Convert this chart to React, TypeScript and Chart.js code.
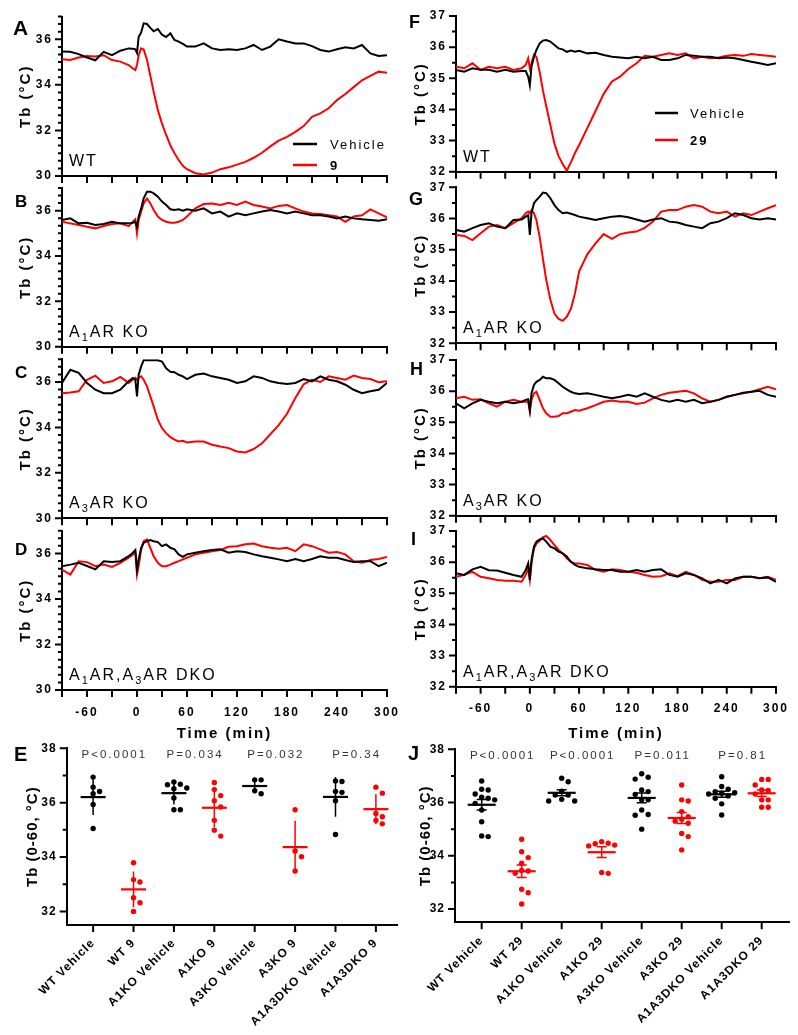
import React, { useEffect, useRef } from 'react';
import { Chart, registerables } from 'chart.js';

Chart.register(...registerables);

const FONT = '"Liberation Sans", Arial, Helvetica, sans-serif';
const BLACK = '#000000';
const RED = '#ff0000';

// ---------- time axis (minutes) ----------
const TIME = [
  -90, -80, -70, -60, -50, -40, -30, -20, -10, -5,
  -2, 0, 2, 5, 8, 12, 16, 20, 25, 30,
  35, 40, 45, 50, 55, 60, 70, 80, 90, 100,
  110, 120, 130, 140, 150, 160, 170, 180, 190, 200,
  210, 220, 230, 240, 250, 260, 270, 280, 290, 300,
];
const TIME_TICKS = [-90, -60, -30, 0, 30, 60, 90, 120, 150, 180, 210, 240, 270, 300];
const TIME_LABELS = [-60, 0, 60, 120, 180, 240, 300];
const Y_LEFT_LABELS = [30, 32, 34, 36];
const Y_RIGHT_LABELS = [32, 33, 34, 35, 36, 37];
const Y_SCATTER_LABELS = [32, 34, 36, 38];

// ---------- compound 9 (left column) ----------
const A_VEH = [
  35.46, 35.45, 35.35, 35.2, 35.08, 35.45, 35.3, 35.5, 35.6, 35.58,
  35.56, 35.4, 36.1, 36.3, 36.7, 36.67, 36.5, 36.35, 36.45, 36.2,
  36.1, 36.26, 35.97, 35.9, 35.8, 35.68, 35.68, 35.82, 35.6, 35.53,
  35.56, 35.53, 35.6, 35.75, 35.53, 35.68, 36.0, 35.9, 35.82, 35.82,
  35.7, 35.53, 35.46, 35.56, 35.65, 35.6, 35.75, 35.38, 35.27, 35.3,
];
const A_DRUG = [
  35.12, 35.09, 35.2, 35.27, 35.24, 35.3, 35.09, 35.02, 34.87, 34.72,
  34.65, 34.87, 35.3, 35.6, 35.55, 35.1, 34.4, 33.7, 32.9, 32.3,
  31.8, 31.35, 31.0, 30.7, 30.45, 30.3, 30.12, 30.07, 30.15, 30.3,
  30.38, 30.5, 30.62, 30.8, 31.02, 31.3, 31.55, 31.72, 31.94, 32.19,
  32.6, 32.75, 32.97, 33.33, 33.6, 33.9, 34.2, 34.39, 34.58, 34.53,
];
const B_VEH = [
  35.59, 35.66, 35.44, 35.47, 35.37, 35.41, 35.51, 35.44, 35.44, 35.47,
  35.51, 35.29, 35.74, 36.1, 36.54, 36.84, 36.84, 36.76, 36.62, 36.4,
  36.25, 36.06, 36.03, 36.06, 36.0, 36.06, 36.0, 36.1, 35.88, 35.96,
  35.74, 35.88, 35.8, 35.88, 35.96, 36.03, 35.96, 35.88, 35.96, 35.88,
  35.8, 35.8, 35.74, 35.66, 35.74, 35.66, 35.62, 35.59, 35.56, 35.62,
];
const B_DRUG = [
  35.51, 35.44, 35.37, 35.29, 35.22, 35.32, 35.41, 35.44, 35.32, 35.51,
  35.62, 35.0, 35.59, 35.96, 36.32, 36.54, 36.32, 36.03, 35.74, 35.59,
  35.51, 35.47, 35.47, 35.51, 35.59, 35.74, 36.1, 36.29, 36.32, 36.25,
  36.35, 36.25, 36.4, 36.25, 36.18, 36.1, 36.21, 36.25, 36.1, 35.96,
  35.88, 35.85, 35.8, 35.74, 35.51, 35.74, 35.8, 36.06, 35.88, 35.71,
];
const C_VEH = [
  35.96, 36.54, 36.4, 35.96, 35.66, 35.51, 35.51, 35.66, 36.03, 36.18,
  36.1, 35.37, 36.32, 36.69, 36.96, 36.96, 36.96, 36.96, 36.96, 36.9,
  36.6, 36.45, 36.43, 36.32, 36.25, 36.13, 36.32, 36.37, 36.25, 36.18,
  36.1, 35.96, 36.03, 36.25, 36.18, 36.03, 35.96, 35.91, 35.96, 36.13,
  36.03, 36.25, 36.1, 36.03, 35.88, 35.66, 35.51, 35.59, 35.66, 35.96,
];
const C_DRUG = [
  35.51, 35.54, 35.59, 36.1, 36.28, 35.96, 36.03, 36.22, 35.96, 36.1,
  36.18, 36.1, 36.18, 36.25, 36.1, 35.81, 35.37, 34.93, 34.34, 33.97,
  33.75, 33.57, 33.46, 33.38, 33.41, 33.34, 33.38, 33.38, 33.24, 33.16,
  33.09, 32.94, 32.9, 33.05, 33.3, 33.7, 34.1, 34.6, 35.3, 35.9,
  36.1, 36.0, 36.25, 36.18, 36.1, 36.28, 36.18, 36.13, 35.99, 36.03,
];
const D_VEH = [
  35.44, 35.51, 35.59, 35.45, 35.3, 35.66, 35.62, 35.66, 35.88, 36.03,
  36.15, 35.29, 35.74, 36.25, 36.47, 36.54, 36.59, 36.54, 36.5, 36.32,
  36.4, 36.25, 36.18, 35.96, 35.85, 35.96, 36.03, 36.1, 36.15, 36.18,
  36.03, 36.1, 36.06, 35.96, 35.88, 35.81, 35.74, 35.66, 35.76, 35.66,
  35.76, 35.88, 35.81, 35.81, 35.71, 35.62, 35.66, 35.66, 35.44, 35.59,
];
const D_DRUG = [
  35.29, 35.07, 35.66, 35.62, 35.44, 35.51, 35.41, 35.59, 35.81, 35.96,
  36.03, 35.07, 35.44, 36.18, 36.54, 36.62, 36.25, 35.88, 35.59, 35.44,
  35.44, 35.51, 35.59, 35.66, 35.74, 35.81, 35.96, 36.03, 36.1, 36.15,
  36.29, 36.32, 36.4, 36.44, 36.32, 36.25, 36.21, 36.25, 36.1, 36.4,
  36.32, 36.18, 36.03, 36.06, 35.96, 35.66, 35.59, 35.71, 35.76, 35.85,
];

// ---------- compound 29 (right column) ----------
const F_VEH = [
  35.27, 35.21, 35.32, 35.27, 35.27, 35.21, 35.27, 35.21, 35.23, 35.23,
  35.05, 34.78, 35.37, 35.69, 35.91, 36.12, 36.21, 36.23, 36.18, 36.07,
  35.96, 35.93, 35.85, 35.89, 35.85, 35.88, 35.8, 35.82, 35.75, 35.69,
  35.67, 35.64, 35.69, 35.64, 35.69, 35.59, 35.59, 35.64, 35.75, 35.72,
  35.69, 35.69, 35.64, 35.67, 35.64, 35.59, 35.53, 35.48, 35.43, 35.48,
];
const F_DRUG = [
  35.37, 35.32, 35.48, 35.27, 35.37, 35.32, 35.37, 35.27, 35.32, 35.43,
  35.64, 35.32, 35.48, 35.75, 35.69, 35.2, 34.6, 34.1, 33.5, 32.9,
  32.5, 32.25, 32.03, 32.3, 32.6, 32.85, 33.4, 33.95, 34.5, 34.9,
  35.05, 35.3, 35.48, 35.72, 35.69, 35.75, 35.8, 35.75, 35.8, 35.64,
  35.69, 35.64, 35.67, 35.72, 35.75, 35.72, 35.78, 35.75, 35.72, 35.69,
];
const G_VEH = [
  35.63, 35.58, 35.69, 35.79, 35.85, 35.74, 35.69, 35.95, 35.97, 36.06,
  36.11, 35.47, 36.17, 36.49, 36.59, 36.7, 36.83, 36.81, 36.65, 36.43,
  36.27, 36.17, 36.19, 36.15, 36.11, 36.06, 36.01, 35.95, 36.01, 36.06,
  36.08, 36.04, 35.97, 35.9, 35.97, 36.01, 35.9, 35.87, 35.79, 35.74,
  35.69, 35.85, 35.9, 36.01, 36.17, 36.11, 36.01, 35.97, 36.01, 35.97,
];
const G_DRUG = [
  35.47, 35.44, 35.31, 35.53, 35.74, 35.79, 35.69, 35.85, 36.01, 36.17,
  36.22, 36.17, 36.27, 36.17, 35.95, 35.4, 34.7, 34.03, 33.4, 32.95,
  32.78, 32.72, 32.85, 33.1, 33.6, 34.3, 34.85, 35.2, 35.5, 35.35,
  35.5, 35.55, 35.58, 35.7, 35.9, 36.22, 36.27, 36.27, 36.38, 36.43,
  36.38, 36.22, 36.17, 36.22, 36.06, 36.17, 36.11, 36.22, 36.33, 36.43,
];
const H_VEH = [
  35.61, 35.45, 35.61, 35.72, 35.66, 35.61, 35.66, 35.61, 35.66, 35.72,
  35.74, 35.39, 35.93, 36.2, 36.3, 36.36, 36.46, 36.41, 36.41, 36.36,
  36.25, 36.14, 36.06, 35.98, 35.93, 35.91, 35.93, 35.88, 35.82, 35.77,
  35.82, 35.88, 35.82, 35.93, 35.82, 35.72, 35.66, 35.72, 35.66, 35.72,
  35.61, 35.66, 35.72, 35.82, 35.88, 35.95, 35.98, 36.01, 35.88, 35.82,
];
const H_DRUG = [
  35.77, 35.82, 35.72, 35.74, 35.61, 35.5, 35.66, 35.72, 35.66, 35.66,
  35.66, 35.34, 35.72, 35.93, 35.98, 35.72, 35.45, 35.29, 35.18, 35.18,
  35.2, 35.29, 35.29, 35.34, 35.39, 35.37, 35.45, 35.55, 35.66, 35.7,
  35.66, 35.66, 35.59, 35.63, 35.77, 35.88, 35.95, 35.98, 36.01, 35.93,
  35.77, 35.66, 35.72, 35.82, 35.88, 35.93, 35.98, 36.06, 36.14, 36.06,
];
const I_VEH = [
  35.64, 35.59, 35.77, 35.85, 35.74, 35.73, 35.66, 35.59, 35.53, 35.75,
  35.96, 35.43, 36.07, 36.5, 36.66, 36.73, 36.76, 36.66, 36.5, 36.44,
  36.34, 36.28, 36.18, 36.01, 35.91, 35.85, 35.8, 35.77, 35.75, 35.75,
  35.69, 35.69, 35.75, 35.69, 35.75, 35.77, 35.59, 35.53, 35.64, 35.59,
  35.48, 35.32, 35.43, 35.32, 35.48, 35.53, 35.53, 35.48, 35.51, 35.37,
];
const I_DRUG = [
  35.53, 35.59, 35.69, 35.53, 35.48, 35.43, 35.4, 35.4, 35.37, 35.59,
  35.8, 35.43, 35.96, 36.44, 36.6, 36.69, 36.8, 36.84, 36.71, 36.55,
  36.39, 36.28, 36.12, 36.01, 35.96, 35.96, 35.91, 35.75, 35.69, 35.77,
  35.75, 35.69, 35.66, 35.59, 35.53, 35.55, 35.64, 35.55, 35.69, 35.59,
  35.43, 35.37, 35.37, 35.43, 35.43, 35.53, 35.53, 35.48, 35.53, 35.43,
];

// ---------- mean Tb 0-60 min, individual animals ----------
const E_CATS = ['WT Vehicle', 'WT 9', 'A1KO Vehicle', 'A1KO 9', 'A3KO Vehicle', 'A3KO 9', 'A1A3DKO Vehicle', 'A1A3DKO 9'];
const E_WT_VEH = [36.94, 36.57, 36.41, 36.33, 35.93, 35.05];
const E_WT_9 = [33.79, 33.17, 33.08, 32.5, 32.32, 32.0];
const E_A1_VEH = [36.76, 36.68, 36.66, 36.54, 36.51, 36.17, 35.74, 35.74];
const E_A1_9 = [36.74, 36.48, 36.26, 36.07, 35.84, 35.35, 34.99, 34.77];
const E_A3_VEH = [36.84, 36.84, 36.44, 36.33];
const E_A3_9 = [35.74, 34.22, 34.01, 33.49];
const E_DKO_VEH = [36.8, 36.78, 36.41, 36.38, 36.07, 34.83];
const E_DKO_9 = [36.57, 36.35, 35.6, 35.48, 35.35, 35.22];
const E_P = ['P<0.0001', 'P=0.034', 'P=0.032', 'P=0.34'];

const J_CATS = ['WT Vehicle', 'WT 29', 'A1KO Vehicle', 'A1KO 29', 'A3KO Vehicle', 'A3KO 29', 'A1A3DKO Vehicle', 'A1A3DKO 29'];
const J_WT_VEH = [36.81, 36.5, 36.47, 36.32, 36.2, 36.16, 36.1, 35.97, 35.72, 35.28, 34.74, 34.72];
const J_WT_29 = [34.62, 34.15, 33.93, 33.72, 33.45, 33.43, 33.34, 32.74, 32.61, 32.19];
const J_A1_VEH = [36.91, 36.78, 36.43, 36.28, 36.28, 36.12, 36.06, 36.06];
const J_A1_29 = [34.53, 34.47, 34.45, 34.4, 34.37, 33.37, 33.34];
const J_A3_VEH = [37.08, 36.95, 36.88, 36.47, 36.41, 36.3, 36.1, 36.1, 35.72, 35.55, 35.52, 35.0];
const J_A3_29 = [36.66, 36.1, 36.06, 35.66, 35.47, 35.37, 35.3, 35.22, 34.84, 34.72, 34.22];
const J_DKO_VEH = [36.97, 36.6, 36.5, 36.41, 36.37, 36.35, 36.32, 36.25, 36.16, 35.95, 35.53];
const J_DKO_29 = [36.87, 36.87, 36.66, 36.47, 36.45, 36.32, 36.1, 36.1, 35.82, 35.82];
const J_P = ['P<0.0001', 'P<0.0001', 'P=0.011', 'P=0.81'];

// ---------- helpers ----------
type Seg = { t: string; sub?: boolean };
const NOTE_WT: Seg[] = [{ t: 'WT' }];
const NOTE_A1: Seg[] = [{ t: 'A' }, { t: '1', sub: true }, { t: 'AR KO' }];
const NOTE_A3: Seg[] = [{ t: 'A' }, { t: '3', sub: true }, { t: 'AR KO' }];
const NOTE_DKO: Seg[] = [{ t: 'A' }, { t: '1', sub: true }, { t: 'AR,A' }, { t: '3', sub: true }, { t: 'AR DKO' }];

const near = (list: number[], v: number) => list.some((l) => Math.abs(l - v) < 1e-6);
const Y_LEFT_TICKS = Array.from({ length: 22 }, (_, k) => 30 + k / 3);
const Y_RIGHT_TICKS = Array.from({ length: 11 }, (_, k) => 32 + k * 0.5);
const Y_SCATTER_TICKS = [32, 33, 34, 35, 36, 37, 38];

const MAJOR_LEN = 7;
const MINOR_LEN = 4;

const font = (size: number, weight: string = 'bold') => ({ family: FONT, size, weight: weight as any, lineHeight: 1.2 });

const spacingPlugin = (px: number) => ({
  id: 'spacing',
  beforeDraw(chart: any) {
    chart.ctx.letterSpacing = px + 'px';
  },
});

// tick marks on both axes, placed with the scales' own tick values
const tickMarksPlugin = (yMajor: number[], xAllMajor: boolean) => ({
  id: 'tickMarks',
  afterDraw(chart: any) {
    const { ctx, chartArea } = chart;
    const xs = chart.scales.x;
    const ys = chart.scales.y;
    ctx.save();
    ctx.strokeStyle = BLACK;
    ctx.lineWidth = 2;
    ctx.lineCap = 'butt';
    ctx.beginPath();
    ys.ticks.forEach((t: any) => {
      const py = ys.getPixelForValue(t.value);
      const len = near(yMajor, t.value) ? MAJOR_LEN : MINOR_LEN;
      ctx.moveTo(chartArea.left, py);
      ctx.lineTo(chartArea.left - len, py);
    });
    xs.ticks.forEach((t: any) => {
      const px = xs.getPixelForValue(t.value);
      const len = xAllMajor ? MAJOR_LEN : MAJOR_LEN;
      ctx.moveTo(px, chartArea.bottom);
      ctx.lineTo(px, chartArea.bottom + len);
    });
    ctx.stroke();
    ctx.restore();
  },
});

function drawLetter(ctx: any, rect: number[], letter: string, pos: number[], size: number) {
  ctx.save();
  ctx.letterSpacing = '0px';
  ctx.font = `bold ${size}px ${FONT}`;
  ctx.fillStyle = BLACK;
  ctx.textAlign = 'left';
  ctx.textBaseline = 'alphabetic';
  ctx.fillText(letter, pos[0] - rect[0], pos[1] - rect[1]);
  ctx.restore();
}

type TimePanel = {
  letter: string;
  letterSize: number;
  letterPos: number[];
  rect: number[];
  area: number[];
  side: 'L' | 'R';
  veh: number[];
  drug: number[];
  drugLabel: string;
  note: Seg[];
  showX: boolean;
  legend?: { x0: number; x1: number; tx: number; y0: number; y1: number };
};

const TIME_PANELS: TimePanel[] = [
  { letter: 'A', letterSize: 21, letterPos: [13, 35], rect: [0, 0, 400, 183], area: [62, 16.5, 387, 176], side: 'L', veh: A_VEH, drug: A_DRUG, drugLabel: '9', note: NOTE_WT, showX: false, legend: { x0: 293, x1: 317, tx: 330, y0: 144, y1: 165 } },
  { letter: 'B', letterSize: 17, letterPos: [15, 207], rect: [0, 183, 400, 171], area: [62, 188, 387, 346.7], side: 'L', veh: B_VEH, drug: B_DRUG, drugLabel: '9', note: NOTE_A1, showX: false },
  { letter: 'C', letterSize: 17, letterPos: [15, 378], rect: [0, 354, 400, 172], area: [62, 359.3, 387, 518.3], side: 'L', veh: C_VEH, drug: C_DRUG, drugLabel: '9', note: NOTE_A3, showX: false },
  { letter: 'D', letterSize: 17, letterPos: [15, 555], rect: [0, 526, 400, 221], area: [62, 530.7, 387, 690], side: 'L', veh: D_VEH, drug: D_DRUG, drugLabel: '9', note: NOTE_DKO, showX: true },
  { letter: 'F', letterSize: 18, letterPos: [409, 28], rect: [400, 0, 398, 181], area: [456, 16, 776, 171.7], side: 'R', veh: F_VEH, drug: F_DRUG, drugLabel: '29', note: NOTE_WT, showX: false, legend: { x0: 655, x1: 678, tx: 690, y0: 113, y1: 140 } },
  { letter: 'G', letterSize: 18, letterPos: [409, 205], rect: [400, 181, 398, 171], area: [456, 187.3, 776, 343.3], side: 'R', veh: G_VEH, drug: G_DRUG, drugLabel: '29', note: NOTE_A1, showX: false },
  { letter: 'H', letterSize: 18, letterPos: [410, 375], rect: [400, 352, 398, 171], area: [456, 360, 776, 515.7], side: 'R', veh: H_VEH, drug: H_DRUG, drugLabel: '29', note: NOTE_A3, showX: false },
  { letter: 'I', letterSize: 18, letterPos: [411, 545], rect: [400, 523, 398, 224], area: [456, 531, 776, 686.7], side: 'R', veh: I_VEH, drug: I_DRUG, drugLabel: '29', note: NOTE_DKO, showX: true },
];

function timeDecor(p: TimePanel) {
  return {
    id: 'decor',
    afterDraw(chart: any) {
      const ctx = chart.ctx;
      const [L, T] = p.rect;
      drawLetter(ctx, p.rect, p.letter, p.letterPos, p.letterSize);
      // genotype note
      ctx.save();
      ctx.fillStyle = BLACK;
      ctx.textBaseline = 'alphabetic';
      ctx.textAlign = 'left';
      ctx.letterSpacing = '2px';
      let x = chart.chartArea.left + 7;
      const base = chart.chartArea.bottom - 10;
      p.note.forEach((s) => {
        ctx.font = s.sub ? `11px ${FONT}` : `16px ${FONT}`;
        ctx.fillText(s.t, x, s.sub ? base + 4 : base);
        x += ctx.measureText(s.t).width;
      });
      ctx.restore();
      // legend
      if (p.legend) {
        const lg = p.legend;
        const items = chart.data.datasets.map((d: any) => ({ label: d.label, color: d.borderColor }));
        const ys = [lg.y0, lg.y1];
        ctx.save();
        items.forEach((it: any, i: number) => {
          const y = ys[i] - T;
          ctx.strokeStyle = it.color;
          ctx.lineWidth = 2.5;
          ctx.beginPath();
          ctx.moveTo(lg.x0 - L, y);
          ctx.lineTo(lg.x1 - L, y);
          ctx.stroke();
          ctx.fillStyle = BLACK;
          ctx.textBaseline = 'middle';
          ctx.textAlign = 'left';
          ctx.letterSpacing = '2px';
          ctx.font = i === 0 ? `13px ${FONT}` : `bold 13px ${FONT}`;
          ctx.fillText(it.label, lg.tx - L, y + 1);
        });
        ctx.restore();
      }
    },
  };
}

function timeConfig(p: TimePanel): any {
  const [L, T, W, H] = p.rect;
  const [al, at, ar, ab] = p.area;
  const left = p.side === 'L';
  const yTicks = left ? Y_LEFT_TICKS : Y_RIGHT_TICKS;
  const yLabels = left ? Y_LEFT_LABELS : Y_RIGHT_LABELS;
  return {
    type: 'line',
    data: {
      datasets: [
        { label: 'Vehicle', data: TIME.map((t, i) => ({ x: t, y: p.veh[i] })), borderColor: BLACK, backgroundColor: BLACK, borderWidth: 2, pointRadius: 0, tension: 0, fill: false },
        { label: p.drugLabel, data: TIME.map((t, i) => ({ x: t, y: p.drug[i] })), borderColor: RED, backgroundColor: RED, borderWidth: 2, pointRadius: 0, tension: 0, fill: false },
      ],
    },
    options: {
      responsive: false,
      animation: false,
      devicePixelRatio: 1,
      events: [],
      layout: { padding: { left: 0, top: at - T, right: L + W - ar, bottom: 0 } },
      plugins: { legend: { display: false }, tooltip: { enabled: false }, title: { display: false } },
      scales: {
        x: {
          type: 'linear',
          min: -90,
          max: 300,
          afterBuildTicks: (s: any) => { s.ticks = TIME_TICKS.map((v) => ({ value: v })); },
          afterFit: (s: any) => { s.height = T + H - ab; s.paddingLeft = 0; s.paddingRight = 0; },
          ticks: {
            autoSkip: false,
            maxRotation: 0,
            minRotation: 0,
            padding: MAJOR_LEN + 8,
            color: BLACK,
            font: font(12),
            callback: (v: number) => (p.showX && near(TIME_LABELS, v) ? String(v) : ''),
          },
          grid: { display: true, drawOnChartArea: false, drawTicks: false },
          border: { display: true, color: BLACK, width: 2 },
          title: { display: p.showX, text: 'Time (min)', color: BLACK, font: font(15), padding: { top: 0, bottom: 4 } },
        },
        y: {
          type: 'linear',
          min: left ? 30 : 32,
          max: 37,
          afterBuildTicks: (s: any) => { s.ticks = yTicks.map((v) => ({ value: v })); },
          afterFit: (s: any) => { s.width = al - L; s.paddingTop = 0; s.paddingBottom = 0; },
          ticks: {
            autoSkip: false,
            padding: MAJOR_LEN + 2,
            color: BLACK,
            font: font(12),
            callback: (v: number) => (near(yLabels, v) ? String(Math.round(v)) : ''),
          },
          grid: { display: true, drawOnChartArea: false, drawTicks: false },
          border: { display: true, color: BLACK, width: 2 },
          title: { display: true, text: 'Tb (°C)', color: BLACK, font: font(15), padding: { top: left ? 16.6 : 11.6, bottom: 0 } },
        },
      },
    },
    plugins: [spacingPlugin(2), tickMarksPlugin(yLabels, true), timeDecor(p)],
  };
}

// ---------- scatter panels ----------
type ScatterPanel = {
  letter: string;
  letterSize: number;
  letterPos: number[];
  rect: number[];
  area: number[];
  xMin: number;
  xMax: number;
  cats: string[];
  groups: number[][];
  pvals: string[];
  mode: 'sd' | 'sem';
  meanHalf: number;
  capHalf: number;
  titlePad: number;
};

const SCATTER_PANELS: ScatterPanel[] = [
  {
    letter: 'E', letterSize: 20, letterPos: [14, 761], rect: [0, 740, 400, 295], area: [66.7, 748.3, 400, 925],
    xMin: -0.654, xMax: 7.53, cats: E_CATS,
    groups: [E_WT_VEH, E_WT_9, E_A1_VEH, E_A1_9, E_A3_VEH, E_A3_9, E_DKO_VEH, E_DKO_9],
    pvals: E_P, mode: 'sd', meanHalf: 12.5, capHalf: 0, titlePad: 24,
  },
  {
    letter: 'J', letterSize: 20, letterPos: [408, 760], rect: [400, 740, 398, 295], area: [455, 749.3, 789.3, 922.3],
    xMin: -0.667, xMax: 7.69, cats: J_CATS,
    groups: [J_WT_VEH, J_WT_29, J_A1_VEH, J_A1_29, J_A3_VEH, J_A3_29, J_DKO_VEH, J_DKO_29],
    pvals: J_P, mode: 'sem', meanHalf: 14, capHalf: 5, titlePad: 16.6,
  },
];

// beeswarm-style horizontal spread so dots do not overlap
function swarm(vals: number[], idx: number, pxX: number, pxY: number) {
  const D = 6.5;
  const placed: { dx: number; y: number }[] = [];
  const order = vals.map((_, i) => i).sort((a, b) => vals[b] - vals[a]);
  const out: { x: number; y: number }[] = [];
  order.forEach((k) => {
    const v = vals[k];
    const cands = [0, D, -D, 2 * D, -2 * D, 3 * D, -3 * D];
    let chosen = 0;
    for (const c of cands) {
      if (placed.every((p) => Math.hypot(p.dx - c, (p.y - v) * pxY) >= D)) { chosen = c; break; }
    }
    placed.push({ dx: chosen, y: v });
    out.push({ x: idx + chosen / pxX, y: v });
  });
  return out;
}

function statsOf(vals: number[], mode: 'sd' | 'sem') {
  const n = vals.length;
  const mean = vals.reduce((a, b) => a + b, 0) / n;
  const sd = Math.sqrt(vals.reduce((a, b) => a + (b - mean) * (b - mean), 0) / (n - 1));
  return { mean, err: mode === 'sd' ? sd : sd / Math.sqrt(n) };
}

function scatterDecor(s: ScatterPanel) {
  return {
    id: 'scatterDecor',
    beforeDatasetsDraw(chart: any) {
      const { ctx } = chart;
      const xs = chart.scales.x;
      const ys = chart.scales.y;
      s.groups.forEach((vals, i) => {
        const { mean, err } = statsOf(vals, s.mode);
        const color = i % 2 ? RED : BLACK;
        const px = xs.getPixelForValue(i);
        const pm = ys.getPixelForValue(mean);
        const pt = ys.getPixelForValue(mean + err);
        const pb = ys.getPixelForValue(mean - err);
        ctx.save();
        ctx.strokeStyle = color;
        ctx.lineWidth = 1.5;
        ctx.beginPath();
        ctx.moveTo(px, pt);
        ctx.lineTo(px, pb);
        if (s.capHalf > 0) {
          ctx.moveTo(px - s.capHalf, pt);
          ctx.lineTo(px + s.capHalf, pt);
          ctx.moveTo(px - s.capHalf, pb);
          ctx.lineTo(px + s.capHalf, pb);
        }
        ctx.stroke();
        ctx.lineWidth = 2.2;
        ctx.beginPath();
        ctx.moveTo(px - s.meanHalf, pm);
        ctx.lineTo(px + s.meanHalf, pm);
        ctx.stroke();
        ctx.restore();
      });
    },
    afterDraw(chart: any) {
      const { ctx } = chart;
      const xs = chart.scales.x;
      const ys = chart.scales.y;
      drawLetter(ctx, s.rect, s.letter, s.letterPos, s.letterSize);
      ctx.save();
      ctx.fillStyle = '#333333';
      ctx.font = `11.5px ${FONT}`;
      ctx.letterSpacing = '2px';
      ctx.textAlign = 'center';
      ctx.textBaseline = 'middle';
      s.pvals.forEach((t, k) => {
        ctx.fillText(t, xs.getPixelForValue(2 * k + 0.5) + 1, ys.getPixelForValue(37.75));
      });
      ctx.restore();
    },
  };
}

function scatterConfig(s: ScatterPanel): any {
  const [L, T, W, H] = s.rect;
  const [al, at, ar, ab] = s.area;
  const pxX = (ar - al) / (s.xMax - s.xMin);
  const pxY = (ab - at) / (38 - 31.5);
  return {
    type: 'scatter',
    data: {
      datasets: s.groups.map((vals, i) => ({
        label: s.cats[i],
        data: swarm(vals, i, pxX, pxY),
        backgroundColor: i % 2 ? RED : BLACK,
        borderColor: i % 2 ? RED : BLACK,
        borderWidth: 0,
        pointRadius: 2.7,
        pointHoverRadius: 2.7,
      })),
    },
    options: {
      responsive: false,
      animation: false,
      devicePixelRatio: 1,
      events: [],
      layout: { padding: { left: 0, top: at - T, right: L + W - ar, bottom: 0 } },
      plugins: { legend: { display: false }, tooltip: { enabled: false }, title: { display: false } },
      scales: {
        x: {
          type: 'linear',
          min: s.xMin,
          max: s.xMax,
          afterBuildTicks: (sc: any) => { sc.ticks = s.cats.map((_, i) => ({ value: i })); },
          afterFit: (sc: any) => { sc.height = T + H - ab; sc.paddingLeft = 0; sc.paddingRight = 0; },
          ticks: {
            autoSkip: false,
            minRotation: 45,
            maxRotation: 45,
            padding: MAJOR_LEN + 4,
            color: BLACK,
            font: font(12),
            callback: (v: number) => s.cats[Math.round(v)] ?? '',
          },
          grid: { display: true, drawOnChartArea: false, drawTicks: false },
          border: { display: true, color: BLACK, width: 2 },
        },
        y: {
          type: 'linear',
          min: 31.5,
          max: 38,
          afterBuildTicks: (sc: any) => { sc.ticks = Y_SCATTER_TICKS.map((v) => ({ value: v })); },
          afterFit: (sc: any) => { sc.width = al - L; sc.paddingTop = 0; sc.paddingBottom = 0; },
          ticks: {
            autoSkip: false,
            padding: MAJOR_LEN + 3,
            color: BLACK,
            font: font(12),
            callback: (v: number) => (near(Y_SCATTER_LABELS, v) ? String(Math.round(v)) : ''),
          },
          grid: { display: true, drawOnChartArea: false, drawTicks: false },
          border: { display: true, color: BLACK, width: 2 },
          title: { display: true, text: 'Tb (0-60, °C)', color: BLACK, font: font(15), padding: { top: s.titlePad, bottom: 0 } },
        },
      },
    },
    plugins: [spacingPlugin(1), tickMarksPlugin(Y_SCATTER_LABELS, true), scatterDecor(s)],
  };
}

function ChartBox({ rect, build }: { rect: number[]; build: () => any }) {
  const ref = useRef<HTMLCanvasElement>(null);
  useEffect(() => {
    const chart = new Chart(ref.current as HTMLCanvasElement, build());
    return () => chart.destroy();
  }, []);
  return (
    <canvas
      ref={ref}
      width={rect[2]}
      height={rect[3]}
      style={{ position: 'absolute', left: rect[0], top: rect[1], width: rect[2], height: rect[3] }}
    />
  );
}

export default function App() {
  return (
    <div style={{ position: 'absolute', left: 0, top: 0, width: 798, height: 1035, background: '#ffffff', overflow: 'hidden' }}>
      {TIME_PANELS.map((p) => (
        <ChartBox key={p.letter} rect={p.rect} build={() => timeConfig(p)} />
      ))}
      {SCATTER_PANELS.map((s) => (
        <ChartBox key={s.letter} rect={s.rect} build={() => scatterConfig(s)} />
      ))}
    </div>
  );
}
